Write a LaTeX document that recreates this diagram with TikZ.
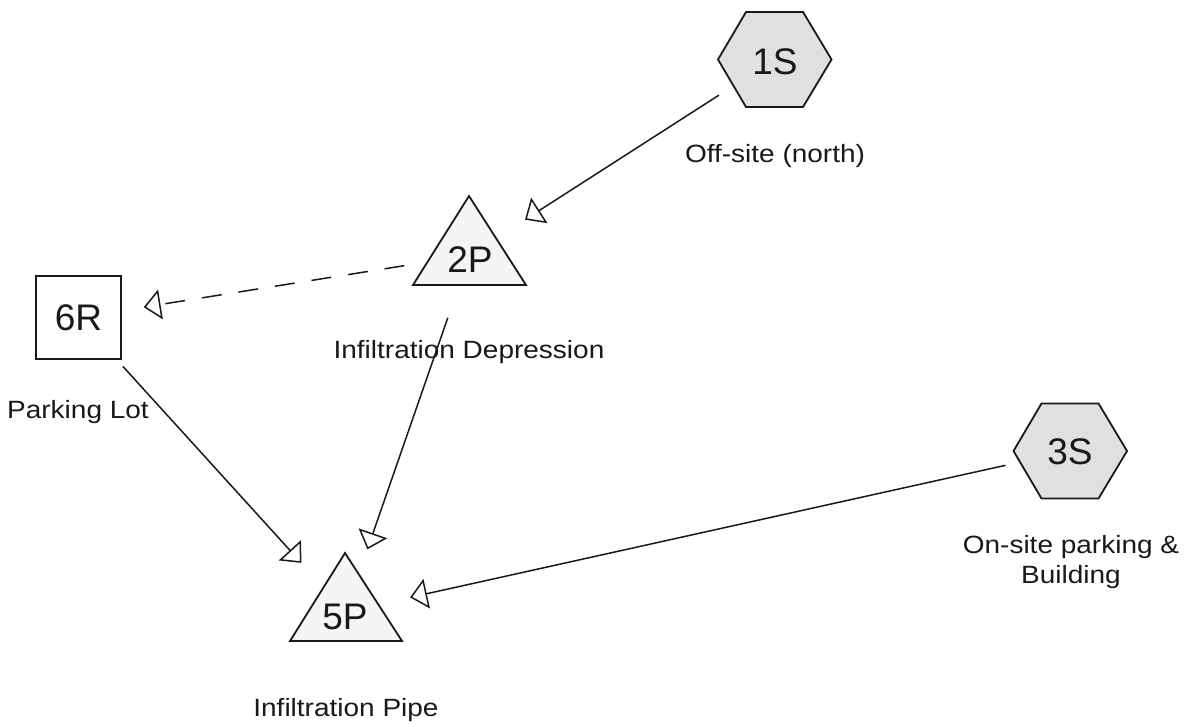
\documentclass[tikz,border=0pt]{standalone}
\usepackage{fontspec}
\setmainfont{Liberation Sans}
\newfontfamily\labfont[FakeStretch=1.12]{Liberation Sans}
\usetikzlibrary{arrows.meta,calc}
\begin{document}
\begin{tikzpicture}[x=1pt,y=-1pt,
  hexa/.style={draw=black!90, line width=1.8pt, fill=black!12, line join=miter},
  tri/.style={draw=black!90, line width=1.8pt, fill=black!4, line join=miter},
  idtext/.style={font=\fontsize{37}{40}\selectfont, inner sep=0pt, text=black!90},
  lab/.style={font=\labfont\fontsize{25}{30}\selectfont, anchor=base, inner sep=0pt, text=black!90, align=center},
  reachbox/.style={draw=black!90, line width=1.8pt, fill=white, minimum width=85pt, minimum height=83pt, inner sep=0pt, font=\fontsize{37}{40}\selectfont, text=black!90},
  conn/.style={line width=1.5pt, draw=black!90, shorten <=66pt, shorten >=66pt,
    -{Triangle[open, length=17pt, width=30pt, line width=1.5pt]}},
  dashconn/.style={conn, dash pattern=on 20pt off 17pt}
]
\useasboundingbox[fill=white] (0,0) rectangle (1193,727);

% hexagon 1S
\coordinate (1S) at (774.5,59.5);
\draw[hexa] ($(1S)+(-56.5,0)$) -- ++(28,-47.5) -- ++(57,0) -- ++(28.5,47.5) -- ++(-28.5,47.5) -- ++(-57,0) -- cycle;
\node[idtext] (1Stext) at (775,62) {1S};
\node[lab] (1Slab) at (775,163) {Off-site (north)};

% hexagon 3S
\coordinate (3S) at (1070,451);
\draw[hexa] ($(3S)+(-56.5,0)$) -- ++(28,-47.5) -- ++(57,0) -- ++(28.5,47.5) -- ++(-28.5,47.5) -- ++(-57,0) -- cycle;
\node[idtext] (3Stext) at (1070,452) {3S};
\node[lab] (3Slab) at (1071,583) {On-site parking \&\\Building};

% triangle 2P
\coordinate (2P) at (469.5,255.3);
\draw[tri] (469,196) -- (526,285) -- (413,285) -- cycle;
\node[idtext] (2Ptext) at (470,260) {2P};
\node[lab] (2Plab) at (469,358.5) {Infiltration Depression};

% triangle 5P
\coordinate (5P) at (345.7,611.7);
\draw[tri] (345,553) -- (402,641) -- (290,641) -- cycle;
\node[idtext] (5Ptext) at (345,617) {5P};
\node[lab] (5Plab) at (346,716) {Infiltration Pipe};

% reach 6R
\node[reachbox] (6R) at (78.5,317.5) {6R};
\node[lab] (6Rlab) at (78,418) {Parking Lot};

% connectors
\draw[conn] (1S) -- (2P);
\draw[dashconn] (2P) -- (6R.center);
\draw[conn] (6R.center) -- (5P);
\draw[conn] (2P) -- (5P);
\draw[conn] (3S) -- (5P);
\end{tikzpicture}
\end{document}
